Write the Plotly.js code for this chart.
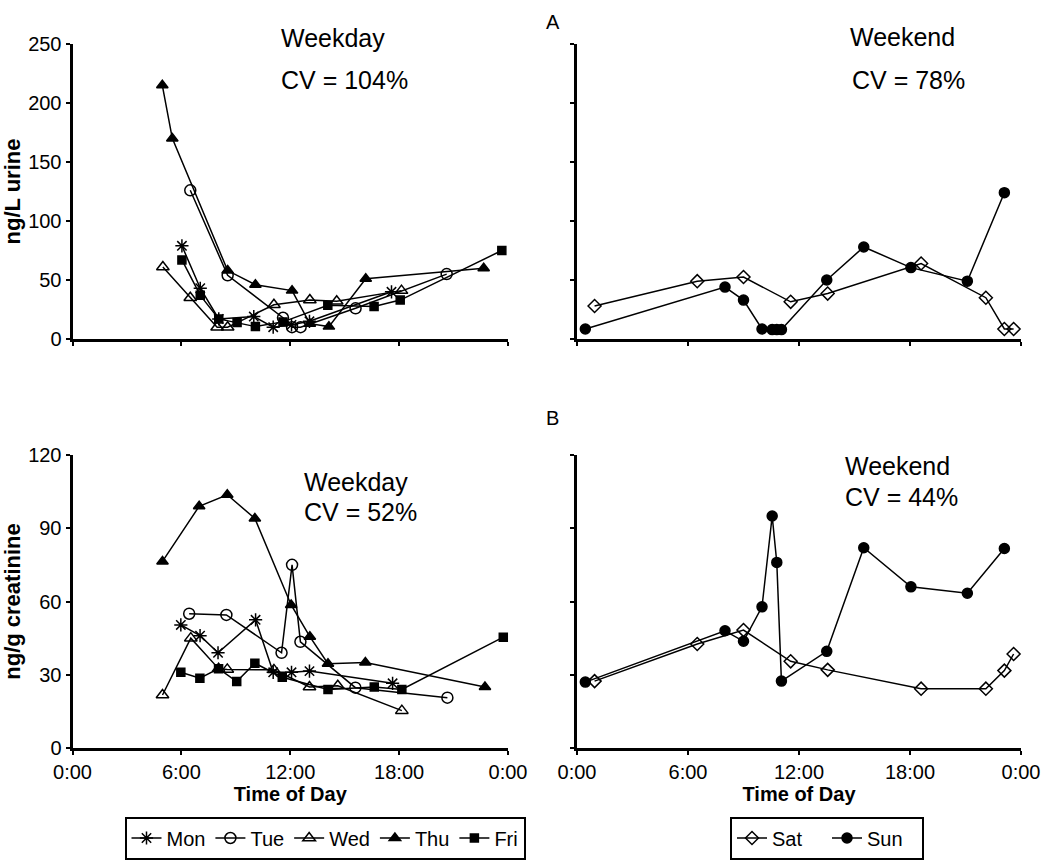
<!DOCTYPE html>
<html>
<head>
<meta charset="utf-8">
<script src="https://cdn.plot.ly/plotly-3.0.1.min.js"></script>
<style>html,body{margin:0;padding:0;background:#fff;}#chart{width:1050px;height:867px;}</style>
</head>
<body>
<div id="chart"></div>
<script>
// ---- tick labels ----
const timeTicks = [0, 6, 12, 18, 24];
const timeLabels = ["0:00", "6:00", "12:00", "18:00", "0:00"];
const yTicksA = [0, 50, 100, 150, 200, 250];
const yTicksB = [0, 30, 60, 90, 120];

// ---- Panel A (ng/L urine), weekday: hours of day / values ----
const monA_t = [6.03, 7.04, 8.06, 9.99, 11.06, 12.07, 13.06, 17.58];
const monA_v = [79, 43, 17, 19, 10, 12, 15, 40];
const tueA_t = [6.49, 8.55, 11.6, 12.1, 12.57, 15.6, 20.62];
const tueA_v = [126, 54, 18, 10, 10, 26, 55];
const wedA_t = [4.98, 6.49, 7.97, 8.55, 11.1, 13.08, 14.56, 18.13];
const wedA_v = [61, 35, 10, 10, 29, 33, 32, 41];
const thuA_t = [4.95, 5.5, 8.55, 10.08, 12.1, 13.08, 14.13, 16.16, 22.66];
const thuA_v = [215, 170, 58, 46, 41, 13, 10.5, 51, 60];
const friA_t = [6.03, 7.04, 8.06, 9.07, 10.08, 11.6, 14.07, 16.62, 18.06, 23.66];
const friA_v = [67, 37, 17, 14, 10.5, 14.5, 28.5, 27.5, 33, 75];

// ---- Panel A, weekend ----
const sat_t = [0.95, 6.5, 9.0, 11.55, 13.55, 18.6, 22.1, 23.1, 23.6];
const satA_v = [28, 49, 52.5, 31.5, 38.5, 64, 35, 8.5, 8.5];
const sun_t = [0.45, 8.0, 9.0, 10.0, 10.55, 10.8, 11.05, 13.5, 15.5, 18.05, 21.1, 23.1];
const sunA_v = [8.5, 44, 33, 8.5, 8, 8, 8, 50, 78, 60.5, 49, 124];

// ---- Panel B (ng/g creatinine), weekday ----
const monB_t = [5.97, 7.03, 8.02, 10.09, 11.06, 12.07, 13.06, 17.64];
const monB_v = [50.4, 46, 39, 52.5, 31, 31, 31.5, 26.5];
const tueB_t = [6.43, 8.48, 11.52, 12.1, 12.56, 15.59, 20.66];
const tueB_v = [55, 54.5, 39, 75, 43.5, 24.7, 20.6];
const wedB_t = [4.96, 6.52, 8.05, 8.53, 11.1, 13.06, 14.62, 18.15];
const wedB_v = [21.7, 45, 32.5, 32.2, 32, 25, 25.5, 15.3];
const thuB_t = [4.96, 6.98, 8.53, 10.05, 12.05, 13.08, 14.08, 16.14, 22.73];
const thuB_v = [76.4, 99, 103.7, 94, 58.6, 45.6, 34.5, 35, 25];
const friB_t = [5.97, 7.02, 8.05, 9.05, 10.05, 11.56, 14.08, 16.63, 18.15, 23.74];
const friB_v = [31, 28.6, 32.5, 27.2, 34.7, 29, 24, 25, 24, 45.4];

// ---- Panel B, weekend ----
const satB_v = [27.4, 42.6, 48.3, 35.5, 32, 24.3, 24.3, 31.7, 38.5];
const sunB_v = [27, 48, 43.7, 57.8, 95, 76, 27.4, 39.6, 82, 66, 63.4, 81.7];

// ---- series names / symbols ----
const weekdayNames = ["Mon", "Tue", "Wed", "Thu", "Fri"];
const weekendNames = ["Sat", "Sun"];

const SYM = {
  Mon: {symbol: "asterisk-open", size: 11},
  Tue: {symbol: "circle-open", size: 11},
  Wed: {symbol: "triangle-up-open", size: 11},
  Thu: {symbol: "triangle-up", size: 10},
  Fri: {symbol: "square", size: 8},
  Sat: {symbol: "diamond-open", size: 10},
  Sun: {symbol: "circle", size: 10}
};

function tr(name, t, v, xa, ya, showLegend, legendId) {
  return {
    type: "scatter", mode: "lines+markers", name: name,
    x: t, y: v, xaxis: xa, yaxis: ya,
    line: {color: "black", width: 1.5},
    marker: {symbol: SYM[name].symbol, size: SYM[name].size, color: "black",
             line: {color: "black", width: 1.5}},
    showlegend: showLegend, legend: legendId, cliponaxis: false
  };
}

const A_week = [[monA_t, monA_v], [tueA_t, tueA_v], [wedA_t, wedA_v], [thuA_t, thuA_v], [friA_t, friA_v]];
const B_week = [[monB_t, monB_v], [tueB_t, tueB_v], [wedB_t, wedB_v], [thuB_t, thuB_v], [friB_t, friB_v]];

const data = [];
weekdayNames.forEach((n, i) => data.push(tr(n, A_week[i][0], A_week[i][1], "x", "y", true, "legend")));
data.push(tr(weekendNames[0], sat_t, satA_v, "x2", "y2", true, "legend2"));
data.push(tr(weekendNames[1], sun_t, sunA_v, "x2", "y2", true, "legend2"));
weekdayNames.forEach((n, i) => data.push(tr(n, B_week[i][0], B_week[i][1], "x3", "y3", false, "legend")));
data.push(tr(weekendNames[0], sat_t, satB_v, "x4", "y4", false, "legend2"));
data.push(tr(weekendNames[1], sun_t, sunB_v, "x4", "y4", false, "legend2"));

const FONT = "Liberation Sans, Arial, sans-serif";
const W = 1050, H = 867;
const px = v => v / W;
const py = v => (H - v) / H;

function xax(domain, showLabels, title) {
  const a = {
    domain: domain, range: [0, 24], tickmode: "array", tickvals: timeTicks, ticktext: timeLabels,
    showticklabels: showLabels, ticks: "outside", ticklen: 4, tickwidth: 2, tickcolor: "black",
    showline: true, linecolor: "black", linewidth: 3, showgrid: false, zeroline: false,
    tickfont: {family: FONT, size: 20, color: "black"}, fixedrange: true
  };
  if (title) a.title = {text: title, font: {family: FONT, size: 20, color: "black", weight: "bold"}, standoff: 4};
  return a;
}
function yax(domain, anchor, range, ticks, showLabels, title) {
  const a = {
    domain: domain, anchor: anchor, range: range, tickmode: "array", tickvals: ticks,
    showticklabels: showLabels, ticks: "outside", ticklen: 4, tickwidth: 2, tickcolor: "black",
    showline: true, linecolor: "black", linewidth: 3, showgrid: false, zeroline: false,
    tickfont: {family: FONT, size: 20, color: "black"}, fixedrange: true
  };
  if (title) a.title = {text: title, font: {family: FONT, size: 22, color: "black", weight: "bold"}, standoff: 2};
  return a;
}

const dLeft = [px(72.5), px(508)];
const dRight = [px(577), px(1021)];
const dTop = [py(339), py(44)];
const dBot = [py(748), py(455)];

function ann(text, xPix, yPix, size) {
  return {text: text, xref: "paper", yref: "paper", x: px(xPix), y: py(yPix),
          xanchor: "left", yanchor: "middle", showarrow: false,
          font: {family: FONT, size: size, color: "black"}};
}

const legendFont = {family: "Liberation Sans Narrow, " + FONT, size: 20, color: "black"};

const layout = {
  width: W, height: H, margin: {l: 0, r: 0, t: 0, b: 0},
  paper_bgcolor: "white", plot_bgcolor: "white", showlegend: true,
  xaxis: Object.assign(xax(dLeft, false), {anchor: "y"}),
  yaxis: yax(dTop, "x", [0, 250], yTicksA, true, "ng/L urine"),
  xaxis2: Object.assign(xax(dRight, false), {anchor: "y2"}),
  yaxis2: yax(dTop, "x2", [0, 250], yTicksA, false),
  xaxis3: Object.assign(xax(dLeft, true, "Time of Day"), {anchor: "y3"}),
  yaxis3: yax(dBot, "x3", [0, 120], yTicksB, true, "ng/g creatinine"),
  xaxis4: Object.assign(xax(dRight, true, "Time of Day"), {anchor: "y4"}),
  yaxis4: yax(dBot, "x4", [0, 120], yTicksB, false),
  legend: {orientation: "h", x: px(325), y: py(838), xanchor: "center", yanchor: "middle",
           bordercolor: "black", borderwidth: 2, bgcolor: "white",
           font: legendFont, itemwidth: 30},
  legend2: {orientation: "h", x: px(827), y: py(838), xanchor: "center", yanchor: "middle",
            bordercolor: "black", borderwidth: 2, bgcolor: "white",
            font: legendFont, itemwidth: 30, entrywidth: 50},
  annotations: [
    ann("A", 544, 22, 20),
    ann("B", 544, 418, 20),
    ann("Weekday", 279, 38, 25),
    ann("CV = 104%", 279, 80, 25),
    ann("Weekend", 848, 37, 25),
    ann("CV = 78%", 850, 80, 25),
    ann("Weekday", 302, 482, 25),
    ann("CV = 52%", 302, 512, 25),
    ann("Weekend", 843, 466, 25),
    ann("CV = 44%", 843, 497, 25)
  ]
};

Plotly.newPlot("chart", data, layout, {staticPlot: true, displayModeBar: false});
</script>
</body>
</html>
